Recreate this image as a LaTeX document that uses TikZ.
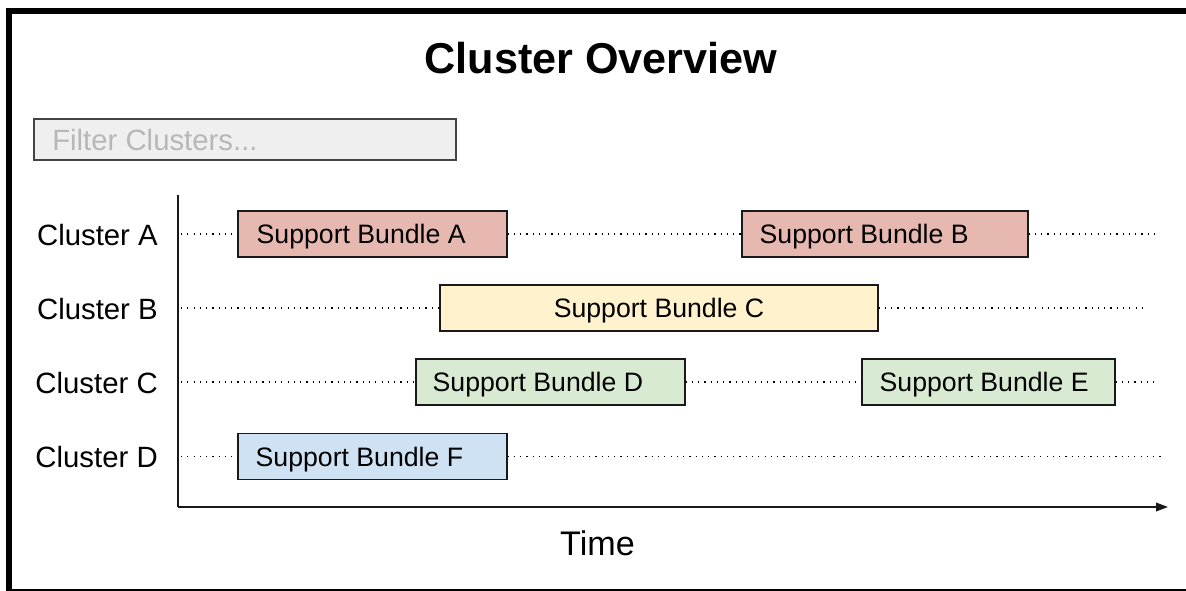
\documentclass[tikz,border=0pt]{standalone}
\usepackage{fontspec}
\setmainfont{Liberation Sans}
\usetikzlibrary{arrows.meta,calc}

\definecolor{bundlered}{HTML}{E6B8AF}
\definecolor{bundleyellow}{HTML}{FFF2CC}
\definecolor{bundlegreen}{HTML}{D9EAD3}
\definecolor{bundleblue}{HTML}{CFE2F3}
\definecolor{filterfill}{HTML}{EFEFEF}
\definecolor{filterline}{HTML}{434343}
\definecolor{filtertext}{HTML}{B7B7B7}

\tikzset{
  frame/.style={line width=4.5pt, draw=black},
  bundle/.style={draw=black!90, line width=0.9pt, inner sep=0pt,
                 minimum height=34.5pt},
  bundletext/.style={anchor=base west, inner sep=0pt,
                     font=\fontsize{20pt}{24pt}\selectfont},
  clusterlabel/.style={anchor=base east, inner sep=0pt,
                       font=\fontsize{22pt}{26pt}\selectfont},
  timeline/.style={line width=0.9pt, dash pattern=on 0.9pt off 3.8pt},
  axisline/.style={line width=1.1pt, draw=black!90},
}

\begin{document}
\begin{tikzpicture}[x=0.75pt, y=-0.75pt]
\useasboundingbox (0,0) rectangle (1186,590);

% outer frame (runs past the page edge on the right and bottom)
\draw[frame] (8.5,10.5) rectangle (1205,591.5);

% heading
\node[anchor=base, inner sep=0pt, font=\bfseries\fontsize{32.4pt}{38pt}\selectfont]
  (title) at (601,73) {Cluster Overview};

% filter input
\node[draw=filterline, fill=filterfill, line width=0.8pt, inner sep=0pt,
      minimum width=316.5pt, minimum height=30.75pt] (filter) at (245,139.5) {};
\node[anchor=base west, inner sep=0pt, text=filtertext,
      font=\fontsize{22pt}{26pt}\selectfont] (filtertxt) at (52,150) {Filter Clusters...};

% axes
\coordinate (ytop) at (178,195);
\coordinate (origin) at (178,507);
\coordinate (xend) at (1168,507);
\draw[axisline] (ytop) -- (origin);
\draw[axisline, -{Triangle[length=9pt,width=6.5pt]}] (origin) -- (xend);
\node[anchor=base, inner sep=0pt, font=\fontsize{25.6pt}{30pt}\selectfont]
  (timelabel) at (597.5,555) {Time};

% cluster rows
\node[clusterlabel] (cA) at (158,245) {Cluster A};
\node[clusterlabel] (cB) at (158,319) {Cluster B};
\node[clusterlabel] (cC) at (158,393) {Cluster C};
\node[clusterlabel] (cD) at (158,467) {Cluster D};

% support bundles
\node[bundle, fill=bundlered,    minimum width=201.75pt] (bA) at (372.5,234) {};
\node[bundle, fill=bundlered,    minimum width=214.5pt]  (bB) at (885,234) {};
\node[bundle, fill=bundleyellow, minimum width=328.5pt]  (bC) at (659,308) {};
\node[bundle, fill=bundlegreen,  minimum width=201.75pt] (bD) at (550.5,382) {};
\node[bundle, fill=bundlegreen,  minimum width=189.75pt] (bE) at (988.5,382) {};
\node[bundle, fill=bundleblue,   minimum width=201.75pt] (bF) at (372.5,456.5) {};

\node[bundletext] (tA) at ($(bA.west)+(19,9.5)$) {Support Bundle A};
\node[bundletext] (tB) at ($(bB.west)+(18,9.5)$) {Support Bundle B};
\node[bundletext, anchor=base] (tC) at ($(bC.center)+(0,9.5)$) {Support Bundle C};
\node[bundletext] (tD) at ($(bD.west)+(17,9.5)$) {Support Bundle D};
\node[bundletext] (tE) at ($(bE.west)+(18,9.5)$) {Support Bundle E};
\node[bundletext] (tF) at ($(bF.west)+(18,9.5)$) {Support Bundle F};

% dotted time lines
\coordinate (sA) at (181,234);
\coordinate (sB) at (181,308);
\coordinate (sC) at (181,382);
\coordinate (sD) at (181,456.5);
\coordinate (eA) at (1154,234);
\coordinate (eB) at (1148,308);
\coordinate (eC) at (1154,382);
\coordinate (eD) at (1162,456.5);

\draw[timeline] (sA) -- (bA.west);
\draw[timeline] (bA.east) -- (bB.west);
\draw[timeline] (bB.east) -- (eA);
\draw[timeline] (sB) -- (bC.west);
\draw[timeline] (bC.east) -- (eB);
\draw[timeline] (sC) -- (bD.west);
\draw[timeline] (bD.east) -- (bE.west);
\draw[timeline] (bE.east) -- (eC);
\draw[timeline] (sD) -- (bF.west);
\draw[timeline] (bF.east) -- (eD);
\end{tikzpicture}
\end{document}
